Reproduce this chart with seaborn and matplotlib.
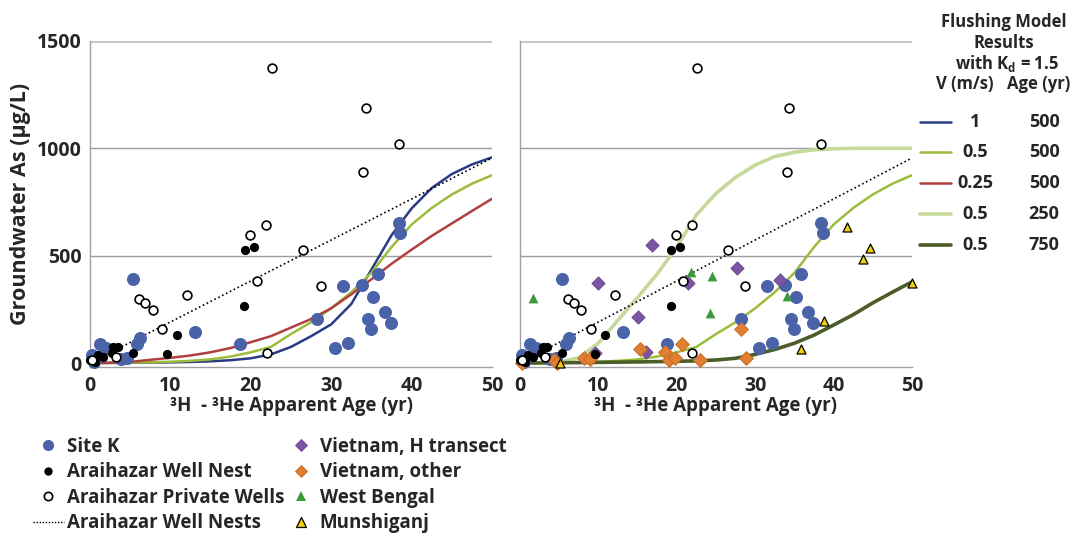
import numpy as np
import pandas as pd
import matplotlib.pyplot as plt
from matplotlib.lines import Line2D
import seaborn as sns

sns.set_style("white")
plt.rcParams['font.family'] = ['Open Sans', 'DejaVu Sans']
plt.rcParams['font.weight'] = 'bold'
plt.rcParams['mathtext.fontset'] = 'custom'
plt.rcParams['mathtext.rm'] = 'Open Sans:bold'
plt.rcParams['mathtext.it'] = 'Open Sans:bold'
plt.rcParams['mathtext.bf'] = 'Open Sans:bold'

# ---- data (age in yr, As in ug/L) ----
siteK_age = [0.2, 0.5, 1.3, 2.0, 3.8, 4.6, 5.3, 5.9, 6.2, 13.1, 18.7, 28.2, 30.5,
             32.1, 31.5, 33.8, 35.8, 35.2, 34.6, 34.9, 36.7, 37.4, 38.4, 38.6]
siteK_as = [35, 5, 90, 70, 20, 25, 390, 90, 115, 145, 90, 203, 71,
            92, 359, 363, 413, 306, 203, 157, 239, 188, 651, 607]

nest_age = [0.0, 0.6, 1.0, 1.6, 2.7, 2.9, 3.5, 5.3, 9.6, 10.8, 19.2, 19.3, 20.4]
nest_as = [14, 6, 37, 29, 45, 76, 76, 48, 40, 130, 265, 526, 542]

priv_age = [0.3, 3.2, 6.1, 6.9, 7.8, 9.0, 12.1, 19.9, 20.8, 21.9, 22.0, 22.6,
            26.5, 28.7, 34.0, 34.3, 38.4]
priv_as = [15, 27, 298, 278, 247, 157, 317, 596, 382, 643, 45, 1374,
           526, 359, 891, 1189, 1019]

trend_age = [2.5, 50]
trend_as = [48, 955]

vnH_age = [9.6, 10.0, 15.1, 16.1, 16.9, 21.4, 27.7, 33.2]
vnH_as = [45, 372, 216, 50, 552, 374, 441, 387]

vnO_age = [0.2, 4.4, 4.7, 8.2, 8.9, 15.3, 18.5, 19.0, 19.8, 20.6, 22.9, 28.2, 28.8]
vnO_as = [2, 15, 2, 25, 17, 64, 53, 14, 25, 87, 14, 160, 22]

wb_age = [1.6, 21.8, 24.5, 24.2, 34.1]
wb_as = [301, 425, 407, 234, 314]

mun_age = [5.1, 35.8, 38.8, 41.7, 43.7, 44.7, 50.0]
mun_as = [2, 64, 196, 635, 484, 534, 374]

# flushing model curves
curve_age = [1.5, 5, 7.5, 10, 12.5, 15, 17.5, 20, 22.5, 25, 27.5, 30,
             32.5, 35, 37.5, 40, 42.5, 45, 47.5, 50]
v1_500 = [0, 1, 2, 3, 5, 8, 13, 22, 40, 75, 125, 180,
          275, 435, 595, 720, 815, 880, 925, 958]
v05_500 = [0, 2, 3, 6, 10, 17, 30, 50, 75, 135, 190, 255,
           330, 420, 540, 645, 722, 785, 835, 875]
v025_500 = [0, 5, 15, 24, 35, 50, 70, 97, 125, 165, 205, 255,
            320, 390, 462, 528, 592, 650, 708, 765]
age250 = [4, 5, 7.5, 10, 12.5, 15, 17.5, 20, 22.5, 25, 27.5, 30,
          32.5, 35, 37.5, 40, 42.5, 45, 47.5, 50]
v05_250 = [0, 3, 25, 92, 200, 305, 415, 540, 690, 790, 865, 922,
           962, 982, 993, 998, 1000, 1000, 1000, 1000]
age750 = [1.5, 5, 10, 15, 20, 22.5, 25, 27.5, 30, 32.5, 35, 37.5,
          40, 42.5, 45, 47.5, 50]
v05_750 = [0, 1, 3, 5, 8, 10, 14, 22, 40, 63, 92, 130,
           177, 225, 280, 330, 378]

model_V = ["1", "0.5", "0.25", "0.5", "0.5"]
model_age = ["500", "500", "500", "250", "750"]
model_colors = ["#2b3a84", "#9cbc3c", "#b0403f", "#c6d99b", "#4c5c26"]
model_lw = [1.8, 1.8, 1.8, 2.6, 2.6]

# ---- styles ----
siteK_kw = dict(color="#4a62a8", marker="o", s=88, edgecolor="#4a62a8", linewidth=0)
nest_kw = dict(color="black", marker="o", s=44, edgecolor="black", linewidth=0)
priv_kw = dict(color="white", marker="o", s=40, edgecolor="black", linewidth=1.2)
vnH_kw = dict(color="#7a55a2", marker="D", s=46, edgecolor="#6a4592", linewidth=0.6)
vnO_kw = dict(color="#e07e32", marker="D", s=50, edgecolor="#c06a24", linewidth=0.6)
wb_kw = dict(color="#3c9a3c", marker="^", s=50, edgecolor="#3c9a3c", linewidth=0)
mun_kw = dict(color="#f2cf0a", marker="^", s=42, edgecolor="black", linewidth=0.9)

W, H = 1072, 535
fig = plt.figure(figsize=(W / 100, H / 100), dpi=100)
bottom = 1 - 367.3 / H
height = (367.3 - 41) / H
ax1 = fig.add_axes([90 / W, bottom, 402 / W, height])
ax2 = fig.add_axes([520 / W, bottom, 392 / W, height])


def scatter(ax, x, y, kw, z):
    sns.scatterplot(x=x, y=y, ax=ax, clip_on=False, zorder=z, legend=False, **kw)


def curve(ax, x, y, i):
    sns.lineplot(x=x, y=y, ax=ax, color=model_colors[i], lw=model_lw[i],
                 estimator=None, zorder=3)


for ax in (ax1, ax2):
    ax.set_xlim(0, 50)
    ax.set_ylim(-20, 1500)
    for yv in (500, 1000):
        ax.axhline(yv, color="#9c9c9c", lw=1.0, zorder=1)
    ax.axhline(1500, color="#c8c8c8", lw=2.2, zorder=1)
    for s in ("top", "right"):
        ax.spines[s].set_visible(False)
    for s in ("left", "bottom"):
        ax.spines[s].set_color("#a0a0a0")
        ax.spines[s].set_linewidth(1.0)
    ax.set_xticks([0, 10, 20, 30, 40, 50])
    ax.set_yticks([0, 500, 1000, 1500])
    ax.tick_params(axis="both", direction="out", length=4, color="#a0a0a0",
                   labelsize=14, pad=2)
    ax.set_xticklabels([str(v) for v in [0, 10, 20, 30, 40, 50]], fontweight="bold")
    ax.set_xlabel("³H  - ³He Apparent Age (yr)", fontsize=13.5, fontweight="bold",
                  labelpad=0)
    sns.lineplot(x=trend_age, y=trend_as, ax=ax, color="black", lw=1.2,
                 linestyle=(0, (1, 1.6)), estimator=None, zorder=4)

ax1.set_yticklabels(["0", "500", "1000", "1500"], fontweight="bold")
ax1.set_ylabel("Groundwater As (µg/L)", fontsize=15.5, fontweight="bold", labelpad=4)
ax2.set_yticklabels([])
ax2.set_ylabel("")

# left panel
curve(ax1, curve_age, v1_500, 0)
curve(ax1, curve_age, v05_500, 1)
curve(ax1, curve_age, v025_500, 2)
scatter(ax1, siteK_age, siteK_as, siteK_kw, 5)
scatter(ax1, nest_age, nest_as, nest_kw, 6)
scatter(ax1, priv_age, priv_as, priv_kw, 7)

# right panel
curve(ax2, curve_age, v05_500, 1)
curve(ax2, age250, v05_250, 3)
curve(ax2, age750, v05_750, 4)
scatter(ax2, siteK_age, siteK_as, siteK_kw, 5)
scatter(ax2, vnH_age, vnH_as, vnH_kw, 5)
scatter(ax2, vnO_age, vnO_as, vnO_kw, 5)
scatter(ax2, wb_age, wb_as, wb_kw, 5)
scatter(ax2, mun_age, mun_as, mun_kw, 5)
scatter(ax2, nest_age, nest_as, nest_kw, 6)
scatter(ax2, priv_age, priv_as, priv_kw, 7)

# ---- bottom legends ----
def mk(kw, size=7):
    return Line2D([], [], linestyle="none", marker=kw["marker"], markersize=size,
                  markerfacecolor=kw["color"], markeredgecolor=kw["edgecolor"],
                  markeredgewidth=kw["linewidth"])

h1 = [mk(siteK_kw, 8), mk(nest_kw, 6), mk(priv_kw, 6),
      Line2D([], [], color="black", lw=1.0, linestyle=(0, (1, 1.2)))]
l1 = ["Site K", "Araihazar Well Nest", "Araihazar Private Wells", "Araihazar Well Nests"]
h2 = [mk(vnH_kw, 6), mk(vnO_kw, 6), mk(wb_kw, 7), mk(mun_kw, 7)]
l2 = ["Vietnam, H transect", "Vietnam, other", "West Bengal", "Munshiganj"]
leg_kw = dict(loc="upper left", frameon=False, borderpad=0,
              borderaxespad=0, handlelength=1.65, handletextpad=0.15,
              labelspacing=0.29, prop=dict(weight="bold", size=13.5))
fig.legend(h1, l1, bbox_to_anchor=(33 / W, 1 - 437 / H), **leg_kw)
fig.legend(h2, l2, bbox_to_anchor=(286 / W, 1 - 437 / H), **leg_kw)

# ---- flushing model key ----
key = fig.add_axes([0, 0, 1, 1], facecolor="none")
key.set_xlim(0, W)
key.set_ylim(H, 0)
key.axis("off")
hdr = dict(ha="center", va="center", fontsize=12, fontweight="bold")
key.text(1004, 22, "Flushing Model", **hdr)
key.text(1004, 43, "Results", **hdr)
key.text(1007, 63, "with K$_{d}$ = 1.5", **hdr)
key.text(965, 84, "V (m/s)", **hdr)
key.text(1039, 84, "Age (yr)", **hdr)
row_y = [122, 152, 183, 214, 245]
for i, yy in enumerate(row_y):
    key.plot([920, 951], [yy, yy], color=model_colors[i], lw=model_lw[i])
    key.text(975, yy, model_V[i], ha="center", va="center", fontsize=13, fontweight="bold")
    key.text(1044, yy, model_age[i], ha="center", va="center", fontsize=13, fontweight="bold")

fig.savefig("out.png", dpi=100)
